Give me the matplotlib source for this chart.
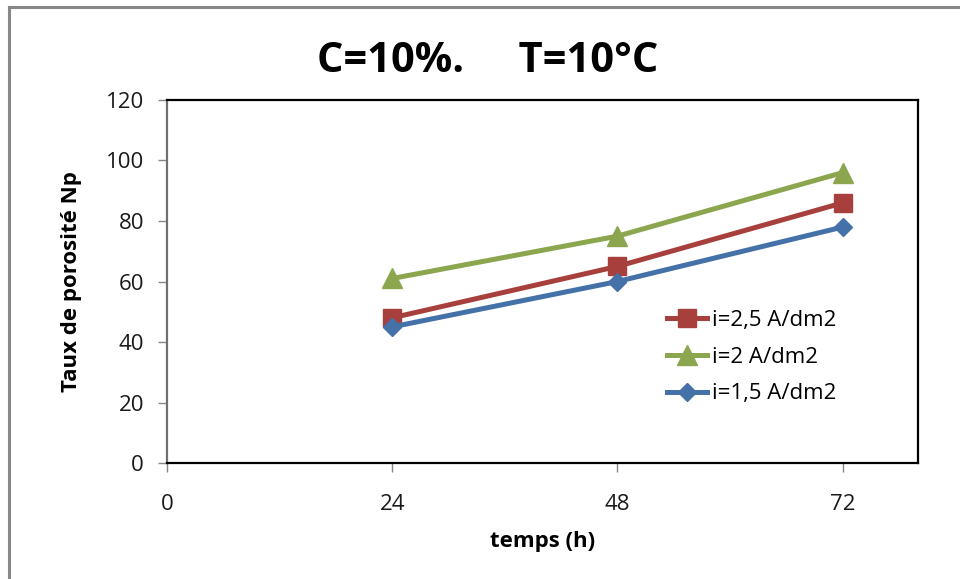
import matplotlib.pyplot as plt
from matplotlib.lines import Line2D

plt.rcParams['font.family'] = ['Open Sans', 'DejaVu Sans']

# temps (h) et taux de porosité pour chaque densité de courant
temps = [24, 48, 72]
np_i25 = [48, 65, 86]
np_i2 = [61, 75, 96]
np_i15 = [45, 60, 78]
labels = ['i=2,5 A/dm2', 'i=2 A/dm2', 'i=1,5 A/dm2']
xticks = [0, 24, 48, 72]
yticks = [0, 20, 40, 60, 80, 100, 120]

fig = plt.figure(figsize=(9.6, 5.79), dpi=100)
ax = fig.add_axes([0.174, 0.2003, 0.782, 0.627])

ax.plot(temps, np_i25, color='#A7403D', lw=3.6, marker='s', ms=13.5,
        label=labels[0], zorder=3)
ax.plot(temps, np_i2, color='#8BA64F', lw=3.6, marker='^', ms=14,
        label=labels[1], zorder=4)
ax.plot(temps, np_i15, color='#4471A8', lw=3.6, marker='D', ms=9,
        label=labels[2], zorder=5)

ax.set_xlim(0, 80)
ax.set_ylim(0, 120)
ax.set_xticks(xticks)
ax.set_yticks(yticks)
ax.tick_params(axis='both', direction='out', length=6.5, width=1,
               color='#868686', labelsize=16, labelcolor='#1a1a1a')
ax.tick_params(axis='y', pad=10)
ax.tick_params(axis='x', pad=16)

for side in ['top', 'right', 'bottom']:
    ax.spines[side].set_color('black')
    ax.spines[side].set_linewidth(1.6)
ax.spines['left'].set_color('#707070')
ax.spines['left'].set_linewidth(1.6)

ax.set_xlabel('temps (h)', fontsize=16, fontweight='bold', labelpad=11)
ax.set_ylabel('Taux de porosité Np', fontsize=16, fontweight='bold', labelpad=17)

fig.text(0.508, 0.893, 'C=10%.     T=10°C', fontsize=30, fontweight='bold',
         ha='center', va='center')

ax.legend(loc='center left', bbox_to_anchor=(0.695, 0.383),
          bbox_transform=fig.transFigure, frameon=False, fontsize=16,
          handlelength=1.8, handletextpad=0.2, labelspacing=0.7,
          borderpad=0, borderaxespad=0)

# cadre gris du graphique
fig.add_artist(Line2D([8.5 / 960, 8.5 / 960], [0, 1 - 6.5 / 579],
                      transform=fig.transFigure, color='#878787', lw=2.2))
fig.add_artist(Line2D([8.5 / 960, 1], [1 - 6.5 / 579, 1 - 6.5 / 579],
                      transform=fig.transFigure, color='#878787', lw=2.2))

fig.savefig('out.png', dpi=100)
